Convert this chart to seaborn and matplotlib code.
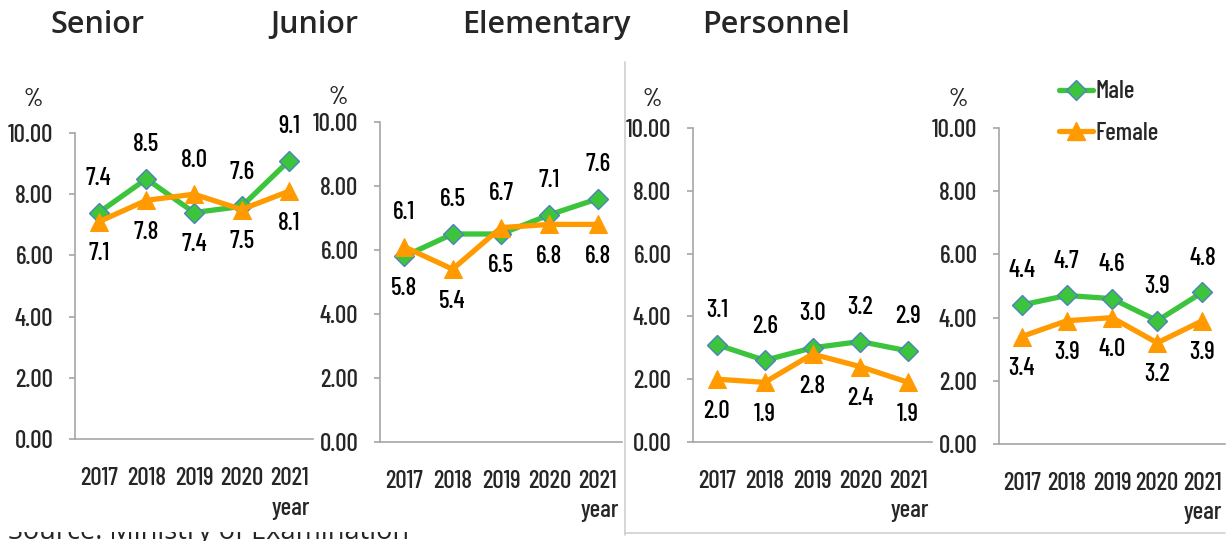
import matplotlib
matplotlib.use("Agg")
import matplotlib.pyplot as plt
import seaborn as sns
import pandas as pd
from matplotlib import font_manager as fm
from matplotlib.lines import Line2D
from matplotlib.transforms import Bbox

years = ["2017", "2018", "2019", "2020", "2021"]
titles = ["Senior", "Junior", "Elementary", "Personnel"]
male_senior = [7.4, 8.5, 7.4, 7.6, 9.1]
female_senior = [7.1, 7.8, 8.0, 7.5, 8.1]
male_junior = [5.8, 6.5, 6.5, 7.1, 7.6]
female_junior = [6.1, 5.4, 6.7, 6.8, 6.8]
male_elementary = [3.1, 2.6, 3.0, 3.2, 2.9]
female_elementary = [2.0, 1.9, 2.8, 2.4, 1.9]
male_personnel = [4.4, 4.7, 4.6, 3.9, 4.8]
female_personnel = [3.4, 3.9, 4.0, 3.2, 3.9]
yticks = [0, 2, 4, 6, 8, 10]
source_text = "Source: Ministry of Examination"

sns.set_theme(style="white")

names = {f.name for f in fm.fontManager.ttflist}


def pick(options):
    for n in options:
        if n in names:
            return n
    return "DejaVu Sans"


narrow = pick(["Barlow Condensed", "Pragati Narrow", "Roboto Condensed", "DejaVu Sans"])
title_font = pick(["Open Sans", "Noto Sans", "DejaVu Sans"])
plt.rcParams["font.family"] = [narrow, "DejaVu Sans"]
plt.rcParams["font.weight"] = "medium"

W, H = 1232, 541
fig = plt.figure(figsize=(W / 100, H / 100), dpi=100)
fig.patch.set_facecolor("white")

boxes = [(75, 313, 133, 439), (380, 622, 122, 442), (693, 932, 128, 442), (999, 1225, 128, 444)]
pct_off = [(-42, 33), (-42, 24), (-41, 28), (-41, 28)]
series = [
    (male_senior, female_senior),
    (male_junior, female_junior),
    (male_elementary, female_elementary),
    (male_personnel, female_personnel),
]

GREEN = "#3CC43C"
ORANGE = "#FF9A00"
EDGE = "#4F81BD"
GRAY = "#A6A6A6"
FS = 18

for k, ((l, r, t, b), (m, f)) in enumerate(zip(boxes, series)):
    ax = fig.add_axes([l / W, 1 - b / H, (r - l) / W, (b - t) / H])
    df = pd.DataFrame({"year": years * 2, "value": list(m) + list(f),
                       "sex": ["Male"] * len(years) + ["Female"] * len(years)})
    sns.lineplot(data=df[df.sex == "Male"], x="year", y="value", ax=ax, color=GREEN,
                 lw=3.8, marker="D", markersize=10, markerfacecolor=GREEN,
                 markeredgecolor=EDGE, markeredgewidth=1.0, zorder=3)
    sns.lineplot(data=df[df.sex == "Female"], x="year", y="value", ax=ax, color=ORANGE,
                 lw=3.8, marker="^", markersize=13, markerfacecolor=ORANGE,
                 markeredgecolor=ORANGE, zorder=4)
    ax.set_xlim(-0.5, 4.5)
    ax.set_ylim(0, 10)
    ax.set_yticks(yticks)
    ax.set_yticklabels([f"{v:.2f}" for v in yticks], fontsize=FS)
    ax.set_xticks(range(len(years)))
    ax.set_xticklabels(years, fontsize=FS)
    ax.set_xticks([i - 0.5 for i in range(len(years) + 1)], minor=True)
    ax.tick_params(axis="x", which="major", length=0, pad=20)
    ax.tick_params(axis="x", which="minor", length=6, width=1.2, color=GRAY, direction="out")
    ax.tick_params(axis="y", length=4.5, width=1.2, color=GRAY, pad=11, left=True)
    for s in ["top", "right"]:
        ax.spines[s].set_visible(False)
    for s in ["left", "bottom"]:
        ax.spines[s].set_color(GRAY)
        ax.spines[s].set_linewidth(1.2)
    ax.set_xlabel("")
    ax.set_ylabel("")
    ax.grid(False)
    if ax.get_legend():
        ax.get_legend().remove()
    ax.set_facecolor("none")
    for i in range(len(years)):
        hi, lo = (m[i], f[i]) if m[i] >= f[i] else (f[i], m[i])
        ax.annotate(f"{hi:.1f}", (i, hi), xytext=(0, 34), textcoords="offset pixels",
                    ha="center", va="center", fontsize=FS, color="black")
        ax.annotate(f"{lo:.1f}", (i, lo), xytext=(0, -32), textcoords="offset pixels",
                    ha="center", va="center", fontsize=FS, color="black")
    dx, dy = pct_off[k]
    ax.annotate("%", (0, 1), xycoords="axes fraction", xytext=(dx, dy),
                textcoords="offset pixels", ha="center", va="center", fontsize=FS)
    ax.annotate("year", (1, 0), xycoords="axes fraction", xytext=(-3, -69),
                textcoords="offset pixels", ha="right", va="center", fontsize=FS)
    if k == 3:
        handles = [
            Line2D([], [], color=GREEN, lw=3.8, marker="D", markersize=10,
                   markerfacecolor=GREEN, markeredgecolor=EDGE),
            Line2D([], [], color=ORANGE, lw=3.8, marker="^", markersize=13,
                   markerfacecolor=ORANGE, markeredgecolor=ORANGE),
        ]
        ax.legend(handles, ["Male", "Female"], loc="upper left",
                  bbox_to_anchor=(0.21, 1.19), frameon=False, fontsize=FS,
                  handlelength=1.35, handletextpad=0.1, labelspacing=0.75, borderpad=0)

title_x = [50, 270, 462, 702]
for tx, tt in zip(title_x, titles):
    fig.text(tx / W, 1 - 25 / H, tt, ha="left", va="center", fontsize=22,
             family=[title_font, "DejaVu Sans"], fontweight="semibold")

fig.add_artist(Line2D([625 / W, 625 / W], [1 - 62 / H, 1 - 535 / H], color="#CFCFCF", lw=1.2))
fig.add_artist(Line2D([625 / W, 1225 / W], [1 - 533 / H, 1 - 533 / H], color="#CFCFCF", lw=1.2))
src = fig.text(8 / W, 1 - 539 / H, source_text, ha="left", va="baseline", fontsize=19.5,
               family=[title_font, "DejaVu Sans"], fontweight="normal")
src.set_clip_box(Bbox.from_extents(0, 0, W, H - 532))
src.set_clip_on(True)

fig.savefig("out.png", dpi=100)
